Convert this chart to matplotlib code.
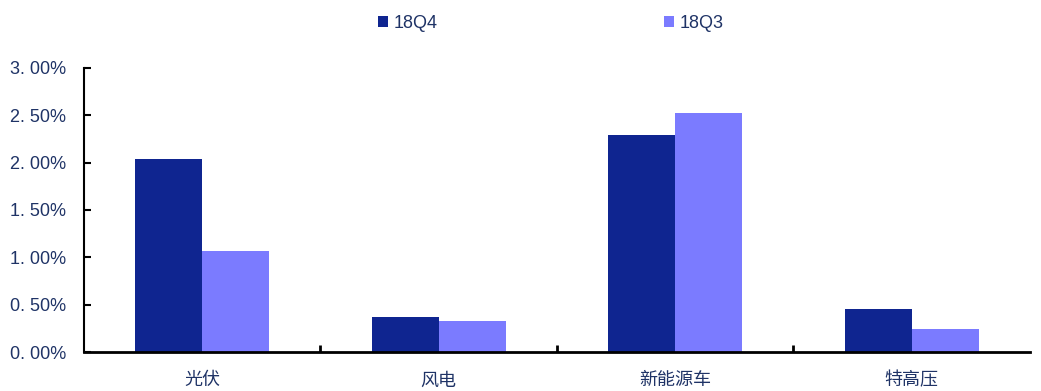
import matplotlib
matplotlib.use('Agg')
import matplotlib.pyplot as plt
import numpy as np
from matplotlib.ticker import FuncFormatter

plt.rcParams['font.family'] = ['Liberation Sans', 'Noto Sans CJK SC', 'DejaVu Sans']

categories = ['光伏', '风电', '新能源车', '特高压']
q4_values = [2.04, 0.37, 2.29, 0.45]
q3_values = [1.07, 0.33, 2.52, 0.24]
series_names = ['18Q4', '18Q3']

dark = '#0f2590'
light = '#7b7bff'
text_color = '#1f3366'

fig = plt.figure(figsize=(10.41, 3.91), dpi=100)
ax = fig.add_axes([0.0807, 0.0997, 0.9087, 0.7266])

x = np.arange(len(categories))
w = 0.283
b1 = ax.bar(x - w / 2, q4_values, w, color=dark, label=series_names[0])
b2 = ax.bar(x + w / 2, q3_values, w, color=light, label=series_names[1])

ax.set_xlim(-0.5, len(categories) - 0.5)
ax.set_ylim(0, 3.0)
ax.set_yticks(np.arange(0, 3.01, 0.5))
ax.yaxis.set_major_formatter(FuncFormatter(lambda v, p: ('%.2f' % v).replace('.', '. ') + '%'))

# category boundaries as minor ticks on the x axis
ax.set_xticks(x)
ax.set_xticklabels(categories, fontsize=13, color=text_color,
                   family=['Noto Sans CJK SC'])
ax.set_xticks(np.arange(0.5, len(categories) - 1, 1), minor=True)
ax.tick_params(axis='x', which='major', length=0, pad=14)
ax.tick_params(axis='x', which='minor', direction='in', length=5, width=2)
ax.tick_params(axis='y', direction='in', length=5, width=1.5,
               labelsize=13, labelcolor=text_color, pad=13)

for side in ['top', 'right']:
    ax.spines[side].set_visible(False)
ax.spines['left'].set_linewidth(1.5)
ax.spines['bottom'].set_linewidth(2)

fig.legend(handles=[b1, b2], labels=series_names, loc='upper center',
           bbox_to_anchor=(0.529, 1.003), ncol=2, frameon=False,
           handlelength=0.6, handleheight=0.6, handletextpad=0.3,
           columnspacing=12.5, fontsize=13, labelcolor=text_color)

fig.savefig('out.png', dpi=100)
